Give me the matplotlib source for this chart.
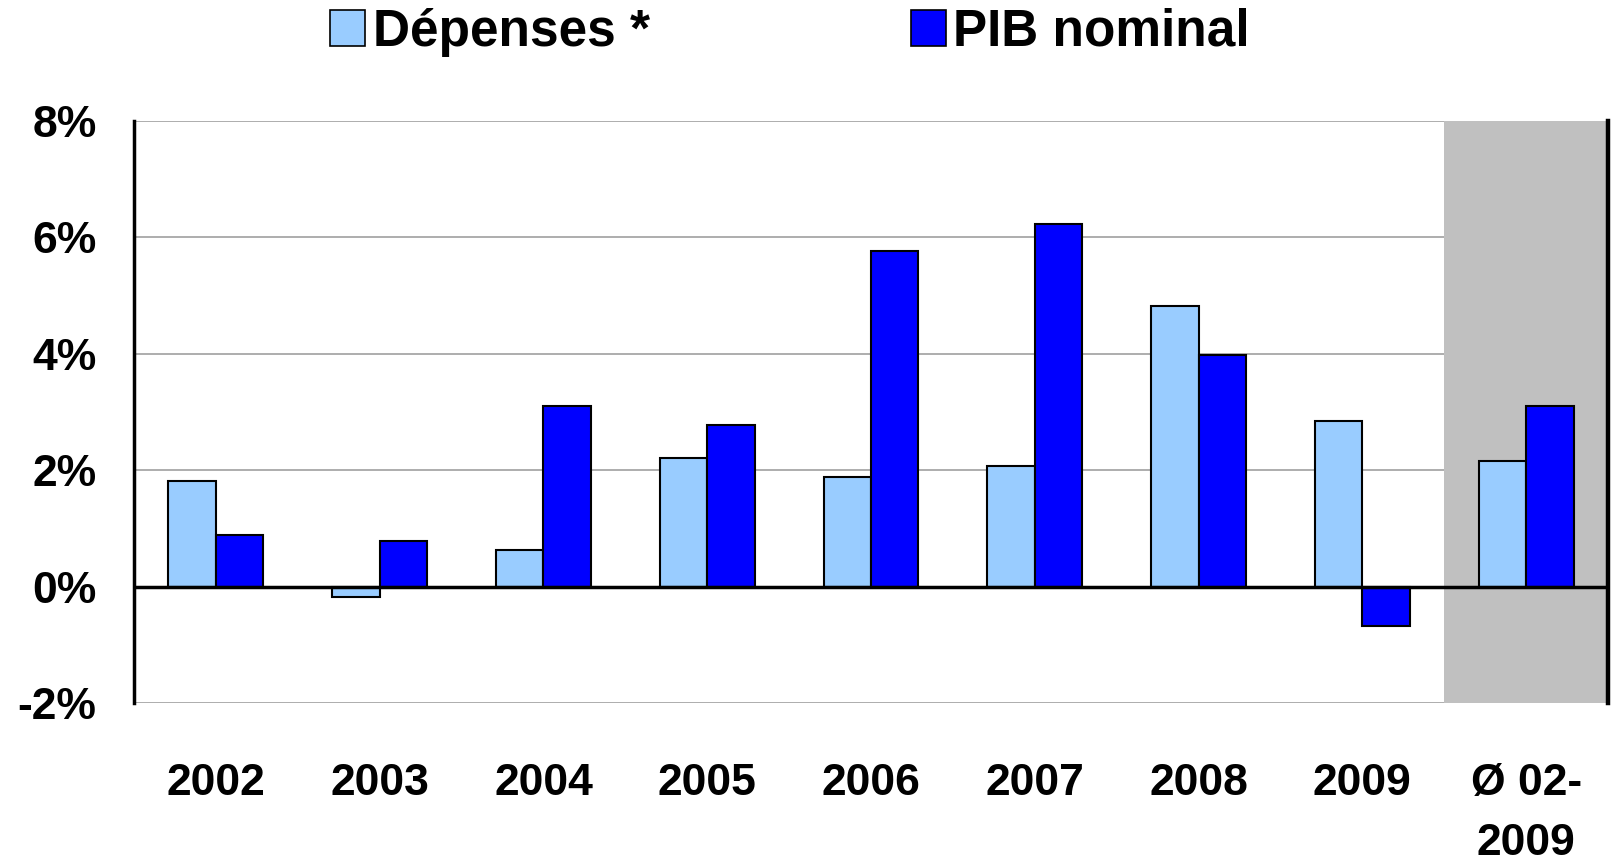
import matplotlib
matplotlib.use("Agg")
import matplotlib.pyplot as plt
from matplotlib.patches import Patch
import numpy as np

categories = ["2002", "2003", "2004", "2005", "2006", "2007", "2008", "2009", "Ø 02-\n2009"]
depenses = [1.81, -0.18, 0.62, 2.20, 1.88, 2.07, 4.82, 2.85, 2.15]
pib = [0.89, 0.78, 3.10, 2.77, 5.76, 6.22, 3.97, -0.67, 3.10]
series_names = ["Dépenses *", "PIB nominal"]
yticks = [-2, 0, 2, 4, 6, 8]

c_dep = "#99CCFF"
c_pib = "#0000FF"

plt.rcParams['font.family'] = ['Liberation Sans', 'DejaVu Sans']

fig = plt.figure(figsize=(16.17, 8.64), dpi=100)
ax = fig.add_axes([134/1617, 1 - 703/864, (1608-134)/1617, (703-120.6)/864])

x = np.arange(len(categories))
w = 0.29
ax.bar(x - w/2, depenses, w, color=c_dep, edgecolor="black", linewidth=1.5, zorder=3)
ax.bar(x + w/2, pib, w, color=c_pib, edgecolor="black", linewidth=1.5, zorder=3)

ax.set_xlim(-0.5, len(categories) - 0.5)
ax.set_ylim(-2, 8)

for yv in yticks:
    if yv != 0:
        ax.axhline(yv, color="#A0A0A0", linewidth=1.2, zorder=0.5)
ax.axvspan(len(categories) - 1.5, len(categories) - 0.5, color="#C0C0C0", zorder=1, linewidth=0)
ax.axhline(0, color="black", linewidth=2.5, zorder=4)

ax.set_yticks(yticks)
ax.set_yticklabels([f"{v}%" for v in yticks], fontsize=32, fontweight="bold")
ax.set_xticks(x)
ax.set_xticklabels(categories, fontsize=32, fontweight="bold", linespacing=1.6, va="top")
ax.tick_params(axis="both", length=0)
ax.tick_params(axis="y", pad=27)
ax.tick_params(axis="x", pad=43)

for s in ["top", "bottom"]:
    ax.spines[s].set_visible(False)
ax.spines["left"].set_linewidth(2.5)
ax.spines["right"].set_linewidth(3.2)
ax.spines["left"].set_zorder(5)
ax.spines["right"].set_zorder(5)

handles = [Patch(facecolor=c_dep, edgecolor="black", linewidth=1.2),
           Patch(facecolor=c_pib, edgecolor="black", linewidth=1.2)]
fig.legend(handles, series_names, loc="upper left", bbox_to_anchor=(330/1617, 1 - 8/864),
           ncol=2, frameon=False, prop={"size": 37, "weight": "bold"},
           handlelength=0.68, handleheight=0.7, handletextpad=0.15, columnspacing=5.08,
           borderpad=0, borderaxespad=0)

fig.savefig("out.png", dpi=100)
